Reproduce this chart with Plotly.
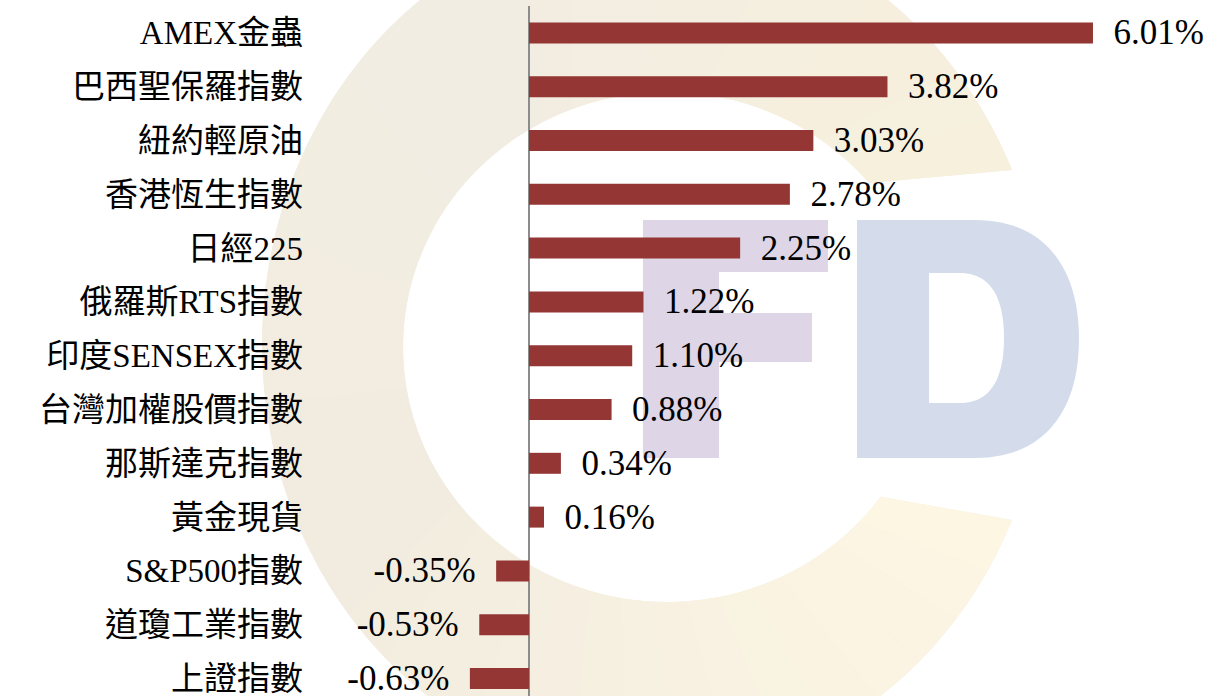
import math
import plotly.graph_objects as go

categories = ["AMEX金蟲", "巴西聖保羅指數", "紐約輕原油", "香港恆生指數", "日經225",
              "俄羅斯RTS指數", "印度SENSEX指數", "台灣加權股價指數", "那斯達克指數",
              "黃金現貨", "S&P500指數", "道瓊工業指數", "上證指數"]
changes = [6.01, 3.82, 3.03, 2.78, 2.25, 1.22, 1.10, 0.88, 0.34, 0.16, -0.35, -0.53, -0.63]

NB = "\u00a0"
labels = [(NB * 2 + f"{v:.2f}%") if v >= 0 else (f"{v:.2f}%" + NB * 2) for v in changes]

W, H = 1206, 696
ML, MT = 312, 6


def px(x, y):
    # pixel position -> paper coords
    return (x - ML) / (W - ML), (H - y) / (H - MT)


def path_from(points, close=True):
    s = ""
    for i, (x, y) in enumerate(points):
        a, b = px(x, y)
        s += ("M" if i == 0 else "L") + f"{a:.4f},{b:.4f} "
    return s + ("Z" if close else "")


def ell(cx, cy, rx, ry, a):
    t = math.radians(a)
    return cx + rx * math.cos(t), cy + ry * math.sin(t)


def mix(c1, c2, t):
    a = [int(c1[i:i + 2], 16) for i in (1, 3, 5)]
    b = [int(c2[i:i + 2], 16) for i in (1, 3, 5)]
    return "#" + "".join(f"{round(a[i] + (b[i] - a[i]) * t):02x}" for i in range(3))


# watermark "C": ring split in slices to fake the soft gradient
OUT = (654, 345, 392, 430)
INN = (667, 347, 264, 255)
o0, o1 = -24.0, -336.0
i0, i1 = -40.0, -324.0
stops = [(0.0, "#f7f0dd"), (0.3, "#f2ede2"), (0.6, "#f2ece0"), (1.0, "#fdf6e3")]


def grad(t):
    for (t0, c0), (t1, c1) in zip(stops, stops[1:]):
        if t <= t1:
            return mix(c0, c1, (t - t0) / (t1 - t0))
    return stops[-1][1]


def ring(ta, tb, n=2):
    outer = [ell(*OUT, o0 + (o1 - o0) * (ta + (tb - ta) * i / n)) for i in range(n + 1)]
    inner = [ell(*INN, i0 + (i1 - i0) * (ta + (tb - ta) * i / n)) for i in range(n + 1)]
    return outer + inner[::-1]


shapes = [dict(type="path", xref="paper", yref="paper", path=path_from(ring(0, 1, 120)),
               fillcolor="#f4eee1", line_width=0, layer="below")]
N = 40
for j in range(N):
    col = grad((j + 0.5) / N)
    shapes.append(dict(type="path", xref="paper", yref="paper",
                       path=path_from(ring(j / N, (j + 1) / N)),
                       fillcolor=col, line_width=0, layer="below"))

f_pts = [(643, 220), (828, 220), (828, 272), (719, 272), (719, 313), (812, 313),
         (812, 362), (719, 362), (719, 458), (643, 458)]


def bez(p0, p1, p2, p3, n=30):
    out = []
    for i in range(1, n + 1):
        t = i / n
        x = (1-t)**3*p0[0] + 3*(1-t)**2*t*p1[0] + 3*(1-t)*t**2*p2[0] + t**3*p3[0]
        y = (1-t)**3*p0[1] + 3*(1-t)**2*t*p1[1] + 3*(1-t)*t**2*p2[1] + t**3*p3[1]
        out.append((x, y))
    return out


d_outer = [(857, 220), (975, 220)] + bez((975, 220), (1045, 220), (1079, 268), (1079, 339)) \
    + bez((1079, 339), (1079, 410), (1045, 458), (975, 458)) + [(857, 458)]
d_inner = [(929, 273), (960, 273)] + bez((960, 273), (992, 273), (1004, 300), (1004, 338)) \
    + bez((1004, 338), (1004, 376), (992, 403), (960, 403)) + [(929, 403)]

shapes += [
    dict(type="path", xref="paper", yref="paper", path=path_from(f_pts),
         fillcolor="#ded5e6", line_width=0, layer="below"),
    dict(type="path", xref="paper", yref="paper",
         path=path_from(d_outer) + " " + path_from(d_inner),
         fillcolor="#d4dcec", line_width=0, layer="below", fillrule="evenodd"),
]

fig = go.Figure(go.Bar(
    x=changes,
    y=categories,
    orientation="h",
    width=0.39,
    marker=dict(color="#943634", line=dict(width=0)),
    text=labels,
    textposition="outside",
    constraintext="none",
    cliponaxis=False,
    textfont=dict(family="Liberation Serif, Noto Sans CJK TC", size=35, color="black"),
    hoverinfo="skip",
))

k = 93.84  # px per percent
fig.update_layout(
    width=W, height=H,
    margin=dict(l=ML, r=0, t=MT, b=0),
    paper_bgcolor="white",
    plot_bgcolor="rgba(0,0,0,0)",
    showlegend=False,
    shapes=shapes,
    xaxis=dict(
        range=[-(529 - ML) / k, (W - 529) / k],
        showgrid=False, showticklabels=False, ticks="",
        zeroline=True, zerolinecolor="#8c8c8c", zerolinewidth=2,
    ),
    yaxis=dict(
        categoryorder="array", categoryarray=categories,
        range=[12.325, -0.5],
        showgrid=False, zeroline=False, ticks="",
        ticklabelstandoff=8,
        tickfont=dict(family="Liberation Serif, Noto Sans CJK TC", size=33, color="black"),
    ),
)

fig.write_html("out.html", config={"displayModeBar": False},
               post_script="document.body.style.margin='0';")
